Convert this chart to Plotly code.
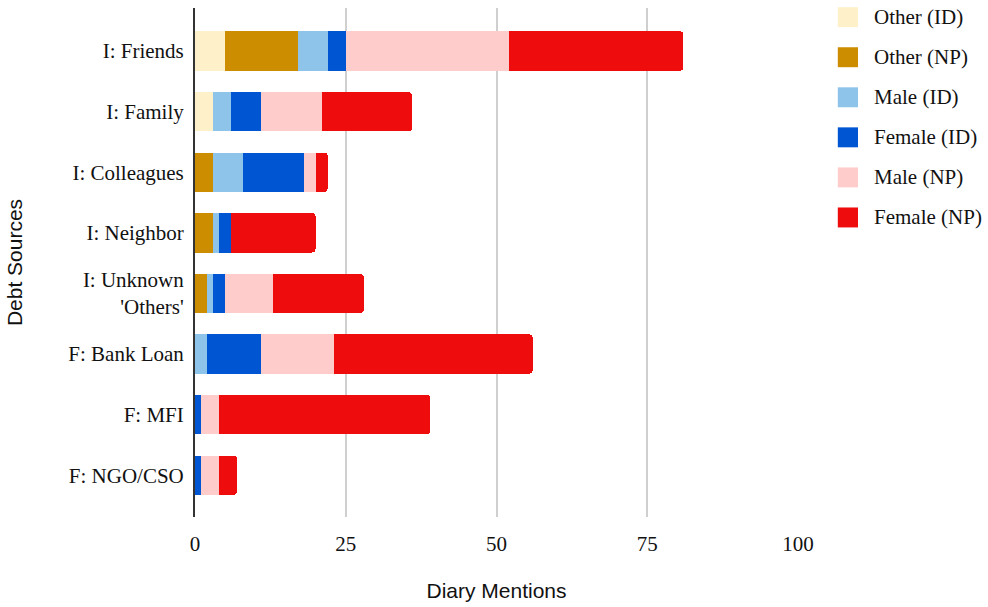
import plotly.graph_objects as go

# Debt sources (I = informal, F = formal) and mentions by respondent group
categories = ["I: Friends", "I: Family", "I: Colleagues", "I: Neighbor",
              "I: Unknown<br>'Others'", "F: Bank Loan", "F: MFI", "F: NGO/CSO"]

other_id = [5, 3, 0, 0, 0, 0, 0, 0]
other_np = [12, 0, 3, 3, 2, 0, 0, 0]
male_id = [5, 3, 5, 1, 1, 2, 0, 0]
female_id = [3, 5, 10, 2, 2, 9, 1, 1]
male_np = [27, 10, 2, 0, 8, 12, 3, 3]
female_np = [29, 15, 2, 14, 15, 33, 35, 3]

series_names = ["Other (ID)", "Other (NP)", "Male (ID)", "Female (ID)",
                "Male (NP)", "Female (NP)"]
series_values = [other_id, other_np, male_id, female_id, male_np, female_np]
series_colors = ["#FEF1C9", "#CD8D00", "#8FC4EA", "#0055D3", "#FFCCCC", "#EE0C0C"]

x_ticks = [0, 25, 50, 75, 100]

SERIF = "Liberation Serif"
SANS = "Liberation Sans"
FS = 21

fig = go.Figure()
for name, vals, color in zip(series_names, series_values, series_colors):
    fig.add_trace(go.Bar(
        y=categories, x=vals, name=name, orientation="h",
        marker=dict(color=color, line=dict(width=0)),
        showlegend=False,
    ))

# Legend drawn as square swatches with labels to the right of the plot
legend_x0 = 1.066
legend_x1 = 1.0995
legend_text_x = 1.122
legend_top = 0.982
legend_step = 0.0787
half = 0.0196
for i, (name, color) in enumerate(zip(series_names, series_colors)):
    yc = legend_top - i * legend_step
    fig.add_shape(type="rect", xref="paper", yref="paper",
                  x0=legend_x0, x1=legend_x1,
                  y0=yc - half, y1=yc + half,
                  fillcolor=color, line=dict(width=0))
    fig.add_annotation(xref="paper", yref="paper", x=legend_text_x, y=yc,
                       text=name, showarrow=False, xanchor="left",
                       yanchor="middle",
                       font=dict(family=SERIF, size=FS, color="#111111"))

fig.update_layout(
    barmode="stack",
    bargap=0.35,
    barcornerradius=4,
    width=988, height=607,
    margin=dict(l=195, r=190, t=8, b=88),
    paper_bgcolor="white",
    plot_bgcolor="white",
    xaxis=dict(
        range=[0, 100],
        tickvals=x_ticks,
        ticktext=[str(v) for v in x_ticks],
        showgrid=True, gridcolor="#CFCFCF", gridwidth=2,
        zeroline=False,
        showline=False,
        tickfont=dict(family=SERIF, size=FS, color="#111111"),
        ticks="",
        ticklabelstandoff=12,
        title=dict(text="Diary Mentions", standoff=28,
                   font=dict(family=SANS, size=FS, color="#111111")),
    ),
    yaxis=dict(
        categoryorder="array", categoryarray=categories,
        range=[7.69, -0.71],
        showgrid=False,
        showline=True, linecolor="#333333", linewidth=2,
        ticks="",
        ticklabelstandoff=5,
        tickfont=dict(family=SERIF, size=FS, color="#111111"),
        title=dict(text="Debt Sources", standoff=40,
                   font=dict(family=SANS, size=FS, color="#111111")),
    ),
)

fig.write_html("out.html")
